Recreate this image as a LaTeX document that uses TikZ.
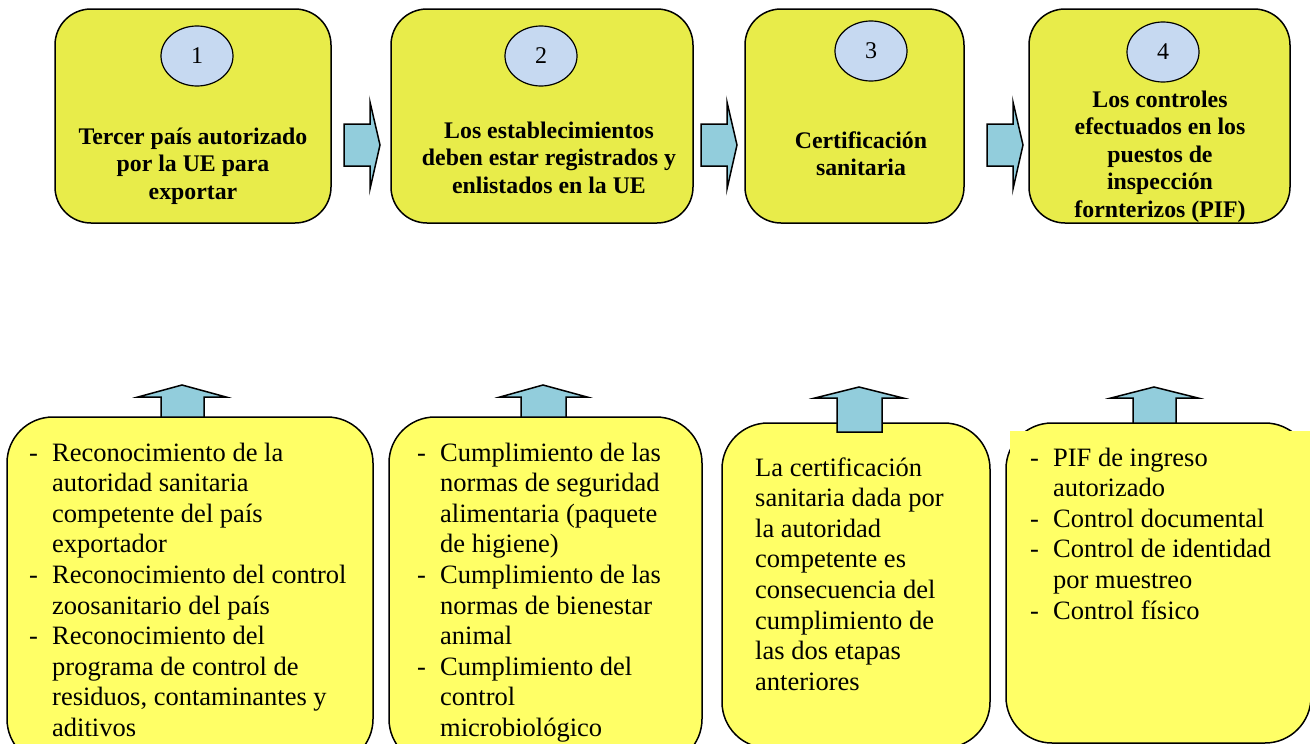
\documentclass[tikz,border=0pt]{standalone}
\usepackage{fontspec}
\setmainfont{Liberation Serif}
\definecolor{topfill}{RGB}{232,236,74}
\definecolor{botfill}{RGB}{255,255,102}
\definecolor{ellfill}{RGB}{198,217,241}
\definecolor{arrfill}{RGB}{146,205,220}
\tikzset{
  topbox/.style={draw=black, line width=1.5pt, fill=topfill, rounded corners=36pt, inner sep=0pt},
  botbox/.style={draw=black, line width=1.5pt, fill=botfill, rounded corners=46pt, inner sep=0pt},
  numell/.style={ellipse, draw=black, line width=1.2pt, fill=ellfill, minimum width=72pt, minimum height=60pt, inner sep=0pt, font=\fontsize{24}{26}\selectfont},
  toptext/.style={align=center, inner sep=0pt, font=\bfseries\fontsize{23.8}{27.4}\selectfont},
  bottext/.style={align=left, inner sep=0pt, anchor=base west, font=\fontsize{26.5}{30.6}\selectfont},
  blockarrow/.style={draw=black, line width=1.5pt, fill=arrfill, line join=miter},
}
\usetikzlibrary{shapes.geometric}
\newcommand{\dsh}[1]{\makebox[23pt][l]{-}#1}
\newcommand{\ind}[1]{\hspace*{23pt}#1}
\begin{document}
\begin{tikzpicture}[x=1pt,y=-1pt]
\useasboundingbox (0,0) rectangle (1310,744);
% top boxes
\node[topbox, minimum width=276pt, minimum height=214pt] (t1) at (193,116) {};
\node[topbox, minimum width=302pt, minimum height=214pt] (t2) at (542,116) {};
\node[topbox, minimum width=219pt, minimum height=214pt] (t3) at (854.5,116) {};
\node[topbox, minimum width=261pt, minimum height=214pt] (t4) at (1159.5,116) {};
\node[numell] (e1) at (197,56) {1};
\node[numell] (e2) at (541,56) {2};
\node[numell] (e3) at (871,51) {3};
\node[numell] (e4) at (1163,52) {4};
\node[toptext] (tx1) at (193,166) {Tercer país autorizado\\por la UE para\\exportar};
\node[toptext] (tx2) at (549,157.5) {Los establecimientos\\deben estar registrados y\\enlistados en la UE};
\node[toptext] (tx3) at (861,153.5) {Certificación\\sanitaria};
\node[toptext] (tx4) at (1160,156.5) {Los controles\\efectuados en los\\puestos de\\inspección\\fornterizos (PIF)};
% right arrows
\draw[blockarrow] (344,124) -- (370,124) -- (370,102) -- (380,145) -- (370,189) -- (370,166) -- (344,166) -- cycle;
\draw[blockarrow] (701,124) -- (727,124) -- (727,102) -- (737,145) -- (727,189) -- (727,166) -- (701,166) -- cycle;
\draw[blockarrow] (987,124) -- (1013,124) -- (1013,102) -- (1023,145) -- (1013,189) -- (1013,166) -- (987,166) -- cycle;
% up arrows (behind boxes)
\draw[blockarrow] (161,418) -- (161,397) -- (138,397) -- (182,385) -- (226,397) -- (204,397) -- (204,418) -- cycle;
\draw[blockarrow] (521,418) -- (521,397) -- (500,397) -- (543,385) -- (587,397) -- (566,397) -- (566,418) -- cycle;
\draw[blockarrow] (1133,424) -- (1133,398) -- (1111,398) -- (1154,387) -- (1198,398) -- (1176,398) -- (1176,424) -- cycle;
% bottom boxes
\node[botbox, minimum width=366pt, minimum height=348pt] (b1) at (190,591) {};
\node[botbox, minimum width=313pt, minimum height=348pt] (b2) at (545.5,591) {};
\node[botbox, minimum width=268pt, minimum height=325pt] (b3) at (856,585.5) {};
\node[botbox, minimum width=305pt, minimum height=320pt] (b4) at (1158.5,583) {};
\fill[botfill] (1010,431) rectangle (1310,690);
\draw[blockarrow] (837,432) -- (837,398) -- (815,398) -- (859,387) -- (903,398) -- (882,398) -- (882,432) -- cycle;
% bottom texts (anchored at baseline of last line)
\node[bottext] (bx1) at (29,736.4) {\dsh{Reconocimiento de la}\\\ind{autoridad sanitaria}\\\ind{competente del país}\\\ind{exportador}\\\dsh{Reconocimiento del control}\\\ind{zoosanitario del país}\\\dsh{Reconocimiento del}\\\ind{programa de control de}\\\ind{residuos, contaminantes y}\\\ind{aditivos}};
\node[bottext] (bx2) at (417,736.4) {\dsh{Cumplimiento de las}\\\ind{normas de seguridad}\\\ind{alimentaria (paquete}\\\ind{de higiene)}\\\dsh{Cumplimiento de las}\\\ind{normas de bienestar}\\\ind{animal}\\\dsh{Cumplimiento del}\\\ind{control}\\\ind{microbiológico}};
\node[bottext] (bx3) at (755,690.2) {La certificación\\sanitaria dada por\\la autoridad\\competente es\\consecuencia del\\cumplimiento de\\las dos etapas\\anteriores};
\node[bottext] (bx4) at (1030,619) {\dsh{PIF de ingreso}\\\ind{autorizado}\\\dsh{Control documental}\\\dsh{Control de identidad}\\\ind{por muestreo}\\\dsh{Control físico}};
\end{tikzpicture}
\end{document}
